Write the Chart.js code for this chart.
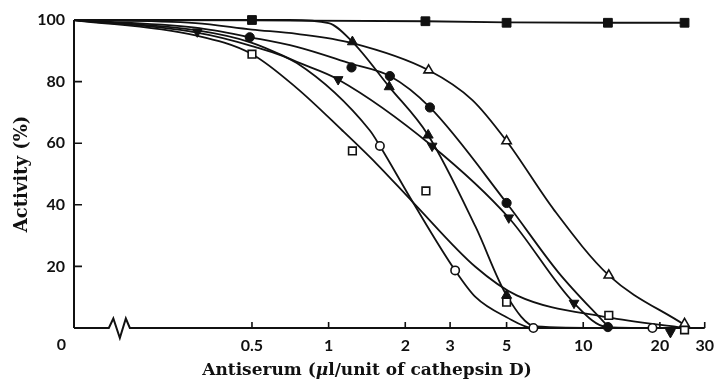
<!DOCTYPE html>
<html>
<head>
<meta charset="utf-8">
<script src="https://cdn.jsdelivr.net/npm/chart.js@4.4.1/dist/chart.umd.min.js"></script>
<style>
  html, body { margin: 0; padding: 0; background: #fff; }
  #wrap { width: 722px; height: 382px; }
</style>
</head>
<body>
<div id="wrap"><canvas id="chart" width="722" height="382"></canvas></div>
<script>
// axis ticks
const xTicks = [0.5, 1, 2, 3, 5, 10, 20, 30];
const yTicks = [0, 20, 40, 60, 80, 100];
const xMin = 0.1, xMax = 30;   // left edge of the log axis stands for "0"
const xBreakAt = 0.15;         // where the zigzag sits on the x axis

// measured points (x = µl antiserum / unit, y = activity %)
const closedSquareMarks   = [[0.5, 100], [2.4, 99.6], [5, 99.1], [12.5, 99.1], [25, 99.1]];
const openTriangleMarks   = [[2.47, 83.7], [5, 60.7], [12.6, 17.1], [25, 1.4]];
const closedCircleMarks   = [[0.49, 94.4], [1.23, 84.6], [1.74, 81.8], [2.5, 71.6], [5, 40.6], [12.5, 0.3]];
const closedTriangleMarks = [[1.24, 92.9], [1.73, 78.3], [2.46, 62.6], [5, 10.6], [12.5, -2.5], [25, -2.7]];
const invTriangleMarks    = [[0.305, 96.2], [1.09, 80.7], [2.55, 59.1], [5.1, 35.8], [9.2, 8.1], [22, -1.4]];
const openSquareMarks     = [[0.5, 88.9], [1.24, 57.5], [2.41, 44.5], [5, 8.4], [12.6, 4.1], [25, -0.6]];
const openCircleMarks     = [[1.59, 59.1], [3.14, 18.7], [6.37, 0], [18.7, 0]];

// hand-drawn curves
const closedSquareCurve   = [[0.1, 100], [0.5, 99.9], [2.4, 99.6], [5, 99.2], [12.5, 99.1], [25, 99.1]];
const openTriangleCurve   = [[0.1, 100], [0.3, 99], [0.5, 96.9], [0.75, 95.5], [1.24, 92.5], [2.47, 83.7], [3.67, 74], [5, 60.7], [7.7, 38.2], [12.6, 17.1], [25, 1]];
const closedCircleCurve   = [[0.1, 100], [0.3, 97.5], [0.5, 94.3], [0.75, 91.3], [1.23, 85.8], [1.74, 81.8], [2.5, 71.6], [5, 40.6], [8, 18], [12.5, 0.5]];
const closedTriangleCurve = [[0.1, 100], [0.7, 100], [1.0, 99], [1.24, 92.9], [1.73, 78.3], [2.46, 62.6], [3.78, 32.8], [5, 10.6], [6.5, 0.5], [12.5, 0], [25, 0]];
const invTriangleCurve    = [[0.1, 100], [0.305, 96.6], [0.5, 92.6], [0.75, 86.4], [1.09, 80.7], [2.55, 59.1], [5.1, 35.8], [9.2, 8.1], [12.4, 0.3], [22, 0]];
const openSquareCurve     = [[0.1, 100], [0.3, 95], [0.5, 88.9], [0.75, 77.9], [1.13, 64.2], [1.54, 53.4], [2.14, 40.9], [3.78, 19.8], [5.48, 10.6], [12.4, 3.5], [25, 0]];
const openCircleCurve     = [[0.1, 100], [0.3, 96], [0.5, 91.5], [0.75, 86], [1.45, 64.2], [1.59, 59.1], [2.14, 40.9], [3.14, 18.7], [3.78, 10], [5, 3.5], [6.37, 0], [18.7, 0]];

const INK = '#111';
const SANS = 'Lato';
const SERIF = 'DejaVu Serif';

const toXY = arr => arr.map(([x, y]) => ({ x, y }));

function curve(data, straight) {
  return {
    type: 'line',
    data: toXY(data),
    borderColor: INK,
    borderWidth: 1.8,
    pointRadius: 0,
    fill: false,
    tension: 0,
    cubicInterpolationMode: straight ? 'default' : 'monotone',
    clip: false,
    order: 1
  };
}

function marks(data, style, radius, filled, rotation) {
  return {
    type: 'scatter',
    data: toXY(data),
    showLine: false,
    pointStyle: style,
    rotation: rotation || 0,
    pointRadius: radius,
    backgroundColor: filled ? INK : '#fff',
    borderColor: INK,
    borderWidth: filled ? 1 : 1.6,
    clip: false,
    order: 0
  };
}

// axis lines, inward ticks, zigzag break and titles
const axesPlugin = {
  id: 'axes',
  beforeDatasetsDraw(chart) {
    const { ctx, chartArea: a, scales: { x, y } } = chart;
    ctx.save();
    ctx.strokeStyle = INK;
    ctx.lineWidth = 2;
    ctx.lineJoin = 'miter';

    ctx.beginPath();
    ctx.moveTo(a.left, a.top);
    ctx.lineTo(a.left, a.bottom);
    ctx.stroke();

    const bx = x.getPixelForValue(xBreakAt);
    const b = a.bottom;
    ctx.beginPath();
    ctx.moveTo(a.left, b);
    ctx.lineTo(bx - 10, b);
    ctx.lineTo(bx - 5.5, b - 9.5);
    ctx.lineTo(bx + 1, b + 10);
    ctx.lineTo(bx + 7, b - 9.5);
    ctx.lineTo(bx + 11, b);
    ctx.lineTo(a.right, b);
    ctx.stroke();

    ctx.lineWidth = 1.6;
    ctx.beginPath();
    xTicks.forEach(v => {
      const px = x.getPixelForValue(v);
      ctx.moveTo(px, b);
      ctx.lineTo(px, b - 6);
    });
    yTicks.filter(v => v > 0).forEach(v => {
      const py = y.getPixelForValue(v);
      ctx.moveTo(a.left, py);
      ctx.lineTo(a.left + 8, py);
    });
    ctx.stroke();
    ctx.restore();
  },
  afterDraw(chart) {
    const { ctx, chartArea: a } = chart;
    ctx.save();
    ctx.fillStyle = INK;

    // origin "0"
    ctx.font = `bold 16px ${SANS}`;
    ctx.textAlign = 'right';
    ctx.textBaseline = 'middle';
    ctx.fillText('0', a.left - 8, a.bottom + 17);

    // x title with italic mu
    ctx.textBaseline = 'alphabetic';
    ctx.textAlign = 'left';
    const parts = [
      ['Antiserum (', `bold 17px ${SERIF}`],
      ['\u03bc', `italic bold 17px ${SERIF}`],
      ['l/unit of cathepsin D)', `bold 17px ${SERIF}`]
    ];
    let total = 0;
    parts.forEach(([t, f]) => { ctx.font = f; total += ctx.measureText(t).width; });
    let tx = 367 - total / 2;
    parts.forEach(([t, f]) => {
      ctx.font = f;
      ctx.fillText(t, tx, 375);
      tx += ctx.measureText(t).width;
    });

    // y title
    ctx.translate(27, (a.top + a.bottom) / 2);
    ctx.rotate(-Math.PI / 2);
    ctx.textAlign = 'center';
    ctx.font = `bold 18px ${SERIF}`;
    ctx.fillText('Activity (%)', 0, 0);
    ctx.restore();
  }
};

new Chart(document.getElementById('chart'), {
  type: 'scatter',
  data: {
    datasets: [
      curve(closedSquareCurve, true),
      curve(openTriangleCurve),
      curve(closedCircleCurve),
      curve(closedTriangleCurve),
      curve(invTriangleCurve),
      curve(openSquareCurve),
      curve(openCircleCurve),
      marks(closedSquareMarks, 'rect', 6.2, true),
      marks(openTriangleMarks, 'triangle', 5.4, false),
      marks(closedCircleMarks, 'circle', 4.6, true),
      marks(closedTriangleMarks, 'triangle', 5.8, true),
      marks(invTriangleMarks, 'triangle', 5.6, true, 180),
      marks(openSquareMarks, 'rect', 5.4, false),
      marks(openCircleMarks, 'circle', 4.2, false)
    ]
  },
  options: {
    responsive: false,
    devicePixelRatio: 1,
    animation: false,
    layout: { padding: { top: 20, right: 10, left: 0, bottom: 0 } },
    plugins: { legend: { display: false }, tooltip: { enabled: false } },
    scales: {
      x: {
        type: 'logarithmic',
        min: xMin,
        max: xMax,
        afterBuildTicks: s => { s.ticks = xTicks.map(v => ({ value: v })); },
        afterFit: s => { s.height = 54; },
        grid: { display: false, drawTicks: false },
        border: { display: false },
        ticks: {
          padding: 8,
          maxRotation: 0,
          autoSkip: false,
          color: INK,
          font: { family: SANS, size: 16, weight: 'bold' },
          callback: v => String(v)
        }
      },
      y: {
        min: 0,
        max: 100,
        afterBuildTicks: s => { s.ticks = yTicks.map(v => ({ value: v })); },
        afterFit: s => { s.width = 74; },
        grid: { display: false, drawTicks: false },
        border: { display: false },
        ticks: {
          padding: 9,
          color: INK,
          font: { family: SANS, size: 16, weight: 'bold' },
          callback: v => (v === 0 ? '' : String(v))
        }
      }
    }
  },
  plugins: [axesPlugin]
});
</script>
</body>
</html>
